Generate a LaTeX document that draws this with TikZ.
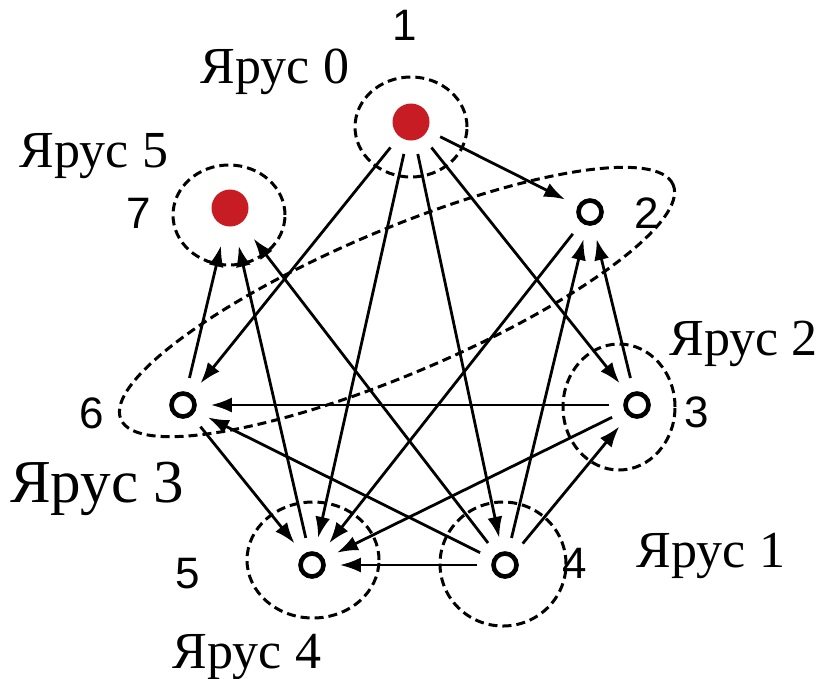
\documentclass[tikz,border=0pt]{standalone}
\usepackage{fontspec}
\setmainfont{Liberation Serif}
\newfontfamily\numfont{Liberation Sans}
\usetikzlibrary{arrows.meta}
\definecolor{nodered}{RGB}{200,28,36}
\begin{document}
\begin{tikzpicture}[x=1pt,y=-1pt,
  opennode/.style={circle,draw,line width=4.6pt,minimum size=23pt,inner sep=0pt},
  rednode/.style={circle,fill=nodered,minimum size=37pt,inner sep=0pt},
  tier/.style={draw,line width=3pt,dash pattern=on 9pt off 5pt},
  edge/.style={line width=2.8pt,-{Latex[length=21pt,width=15pt]},shorten <=14pt,shorten >=14pt},
  toseven/.style={edge,shorten >=20pt},
  tierlabel/.style={font=\fontsize{52}{60}\selectfont,anchor=base,inner sep=0pt},
  numlabel/.style={font=\numfont\fontsize{44}{50}\selectfont,anchor=base,inner sep=0pt}]
\useasboundingbox[fill=white] (0,0) rectangle (821,678);

% tier outlines
\draw[tier] (411,127) ellipse [x radius=56pt, y radius=50pt];
\draw[tier] (229,215) ellipse [x radius=56pt, y radius=50pt];
\draw[tier] (619,407) ellipse [x radius=56pt, y radius=63pt];
\draw[tier] (503,564) ellipse [x radius=63pt, y radius=62pt];
\draw[tier] (313,560) ellipse [x radius=66pt, y radius=58pt];
\draw[tier, rotate around={23:(397,302)}] (397,302) ellipse [x radius=300pt, y radius=72pt];

% nodes
\node[rednode] (n1) at (411,122) {};
\node[opennode] (n2) at (590,212) {};
\node[opennode] (n3) at (637,405) {};
\node[opennode] (n4) at (505,565) {};
\node[opennode] (n5) at (312,565) {};
\node[opennode] (n6) at (183,405) {};
\node[rednode] (n7) at (230,208) {};

% edges
\draw[edge] (n1) -- (n2);
\draw[edge] (n1) -- (n3);
\draw[edge] (n1) -- (n4);
\draw[edge] (n1) -- (n5);
\draw[edge] (n1) -- (n6);
\draw[edge] (n2) -- (n5);
\draw[edge] (n3) -- (n2);
\draw[edge] (n3) -- (n5);
\draw[edge] (n3) -- (n6);
\draw[edge] (n4) -- (n2);
\draw[edge] (n4) -- (n3);
\draw[edge] (n4) -- (n5);
\draw[edge] (n4) -- (n6);
\draw[toseven] (n4) -- (n7);
\draw[toseven] (n5) -- (n7);
\draw[edge] (n6) -- (n5);
\draw[toseven] (n6) -- (n7);

% number labels
\node[numlabel] (l1) at (405,40) {1};
\node[numlabel] (l2) at (647,228) {2};
\node[numlabel] (l3) at (697,427) {3};
\node[numlabel] (l4) at (575,578) {4};
\node[numlabel] (l5) at (188,588) {5};
\node[numlabel] (l6) at (92,428) {6};
\node[numlabel] (l7) at (139,228) {7};

% tier labels
\node[tierlabel] (t0) at (275,83) {Ярус 0};
\node[tierlabel] (t5) at (94,167) {Ярус 5};
\node[tierlabel,anchor=base east] (t2) at (818,355) {Ярус 2};
\node[tierlabel] (t1) at (711,567) {Ярус 1};
\node[tierlabel,font=\fontsize{61}{70}\selectfont] (t3) at (97,502) {Ярус 3};
\node[tierlabel] (t4) at (247,668) {Ярус 4};
\end{tikzpicture}
\end{document}
